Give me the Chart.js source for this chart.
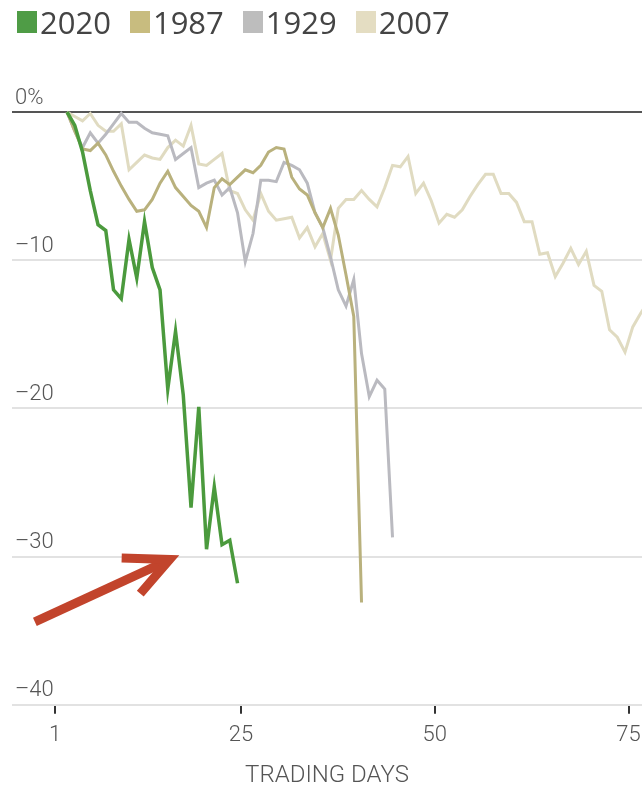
<!DOCTYPE html>
<html>
<head>
<meta charset="utf-8">
<script src="https://cdn.jsdelivr.net/npm/chart.js@4/dist/chart.umd.min.js"></script>
<style>
  html, body { margin: 0; padding: 0; background: #fff; }
  #wrap { position: relative; width: 642px; height: 790px; }
  #legenda { position: absolute; left: 17px; top: 1px; display: flex; align-items: center;
    font-family: "Open Sans", sans-serif; font-size: 31px; color: #444; }
  #legenda span.item { display: flex; align-items: center; margin-right: 19px; }
  #legenda i { display: inline-block; width: 20px; height: 22px; margin-right: 3px; }
</style>
</head>
<body>
<div id="wrap">
  <canvas id="grafico-quedas"></canvas>
  <div id="legenda"></div>
</div>
<script>
// Queda a partir do pico, por pregão (%)
const anos = ['2020', '1987', '1929', '2007'];
const cores = ['#4b9a3d', '#b9b17d', '#babac0', '#e0dbc1'];
const coresLegenda = ['#4f9c46', '#c8bc7f', '#bdbdbd', '#e4ddc2'];

const queda2020 = [0, -0.9, -2.7, -5.3, -7.6, -8.0, -12.0, -12.6, -8.6, -11.2, -7.4, -10.5, -12.0,
  -18.7, -14.8, -19.1, -26.7, -19.9, -29.5, -25.3, -29.2, -28.9, -31.8];

const queda1987 = [0, -1.3, -2.5, -2.6, -2.1, -2.9, -4.0, -5.0, -5.9, -6.7, -6.6, -5.9, -4.8,
  -4.0, -5.1, -5.7, -6.3, -6.7, -7.8, -5.1, -4.5, -4.9, -4.4, -3.9, -4.1, -3.6, -2.7, -2.4,
  -2.5, -4.4, -5.2, -5.6, -6.8, -7.8, -6.5, -8.3, -11.0, -13.8, -33.1];

const queda1929 = [0, -1.3, -2.4, -1.4, -2.1, -1.5, -0.8, -0.1, -0.7, -0.7, -1.1, -1.4, -1.5,
  -1.6, -3.2, -2.8, -2.4, -5.1, -4.8, -4.6, -5.6, -5.1, -6.8, -10.1, -8.2, -4.6, -4.6, -4.7,
  -3.4, -3.6, -3.9, -4.8, -6.8, -7.8, -9.8, -12.0, -13.1, -11.3, -16.3, -19.2, -18.1, -18.7, -28.7];

const queda2007 = [0, -0.3, -0.6, -0.1, -0.9, -1.3, -1.3, -0.8, -3.9, -3.4, -2.9, -3.1, -3.2,
  -2.4, -1.9, -2.3, -0.9, -3.5, -3.6, -3.2, -2.8, -5.3, -5.5, -6.6, -7.3, -5.5, -6.7, -7.3,
  -7.2, -7.1, -8.5, -7.8, -9.1, -8.2, -10.0, -6.5, -5.9, -5.9, -5.3, -5.9, -6.4, -5.1, -3.6,
  -3.7, -3.0, -5.5, -4.8, -6.0, -7.5, -6.9, -7.1, -6.6, -5.7, -4.9, -4.2, -4.2, -5.5, -5.5,
  -6.1, -7.4, -7.4, -9.6, -9.5, -11.1, -10.2, -9.2, -10.3, -9.4, -11.7, -12.1, -14.7, -15.2,
  -16.2, -14.5, -13.6, -12.8];

const ticksDias = [1, 25, 50, 75];
const ticksQueda = [0, -10, -20, -30, -40];

const series = [queda2020, queda1987, queda1929, queda2007];

// seta vermelha (anotação), em unidades do eixo visível
const seta = { cauda: [-1.6, -34.4], ponta: [15.8, -30.2], asa1: [9.6, -30.1], asa2: [12.0, -32.5] };

// legenda em HTML
const legenda = document.getElementById('legenda');
anos.forEach((a, i) => {
  const item = document.createElement('span');
  item.className = 'item';
  item.innerHTML = `<i style="background:${coresLegenda[i]}"></i>${a}`;
  legenda.appendChild(item);
});

const pluginSeta = {
  id: 'seta',
  afterDatasetsDraw(chart) {
    const { ctx, scales } = chart;
    const p = ([d, v]) => [scales.x.getPixelForValue(d), scales.y.getPixelForValue(v)];
    const c = p(seta.cauda), t = p(seta.ponta), a1 = p(seta.asa1), a2 = p(seta.asa2);
    ctx.save();
    ctx.strokeStyle = '#c2442c';
    ctx.lineWidth = 9;
    ctx.lineCap = 'butt';
    ctx.lineJoin = 'miter';
    ctx.beginPath();
    ctx.moveTo(c[0], c[1]);
    ctx.lineTo(t[0] - 3, t[1] + 1.5);
    ctx.stroke();
    ctx.beginPath();
    ctx.moveTo(a1[0], a1[1]);
    ctx.lineTo(t[0], t[1]);
    ctx.lineTo(a2[0], a2[1]);
    ctx.stroke();
    ctx.restore();
  }
};

const familia = 'Roboto, "Open Sans", sans-serif';
const fonteEixo = { family: familia, size: 22, weight: 300 };

new Chart(document.getElementById('grafico-quedas').getContext('2d'), {
  type: 'line',
  data: {
    datasets: series.map((s, i) => ({
      label: anos[i],
      data: s.map((v, d) => ({ x: d + 1, y: v })),
      xAxisID: 'xd',
      borderColor: cores[i],
      borderWidth: i === 0 ? 3.5 : 3,
      pointRadius: 0,
      tension: 0,
      clip: false
    }))
  },
  options: {
    responsive: true,
    maintainAspectRatio: false,
    animation: false,
    layout: { padding: { top: 112, left: 12, right: 0, bottom: 0 } },
    plugins: { legend: { display: false }, tooltip: { enabled: false } },
    scales: {
      x: {
        type: 'linear',
        min: -4.55,
        max: 76.74,
        afterBuildTicks: ax => { ax.ticks = ticksDias.map(v => ({ value: v })); },
        afterFit: ax => { ax.paddingLeft = 0; ax.paddingRight = 0; },
        border: { display: false },
        grid: { drawOnChartArea: false, drawTicks: true, tickLength: 9, color: '#333', lineWidth: 2 },
        ticks: { font: fonteEixo, color: '#555', padding: 8, maxRotation: 0 },
        title: { display: true, text: 'TRADING DAYS', font: { family: familia, size: 24, weight: 300 },
          color: '#555', padding: { top: 5, bottom: 0 } }
      },
      xd: {
        type: 'linear',
        display: false,
        min: -6.1,
        max: 75.19
      },
      y: {
        min: -40,
        max: 0,
        afterBuildTicks: ax => { ax.ticks = ticksQueda.map(v => ({ value: v })); },
        afterFit: ax => { ax.width = 0; },
        border: { display: false },
        grid: {
          drawTicks: false,
          color: c => c.tick.value === 0 ? '#555' : '#e2e2e2',
          lineWidth: 2
        },
        ticks: {
          mirror: true,
          padding: 3,
          labelOffset: -14,
          font: fonteEixo,
          color: '#555',
          callback: v => v === 0 ? '0%' : '–' + Math.abs(v)
        }
      }
    }
  },
  plugins: [pluginSeta]
});
</script>
</body>
</html>
